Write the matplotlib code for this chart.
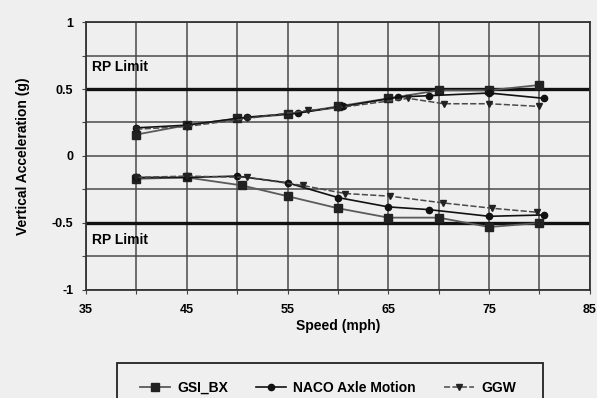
import matplotlib
matplotlib.use('Agg')
import matplotlib.pyplot as plt
from matplotlib.patches import Rectangle
from matplotlib.ticker import MultipleLocator
import numpy as np

plt.rcParams['font.family'] = ['Liberation Sans', 'DejaVu Sans']
plt.rcParams['font.weight'] = 'bold'

# *****************************************
# values
# upper branch (positive peaks)
gsi_up_x = [40, 45, 50, 55, 60, 65, 70, 75, 80]
gsi_up_y = [0.16, 0.23, 0.28, 0.31, 0.37, 0.43, 0.49, 0.49, 0.53]
naco_up_x = [40, 45, 51, 56, 60.5, 66, 69, 75, 80.5]
naco_up_y = [0.21, 0.23, 0.29, 0.32, 0.37, 0.44, 0.45, 0.47, 0.43]
ggw_up_x = [40, 45, 51, 57, 60, 67, 70.5, 75, 80]
ggw_up_y = [0.20, 0.22, 0.28, 0.34, 0.36, 0.43, 0.39, 0.39, 0.37]

# lower branch (negative peaks)
gsi_lo_x = [40, 45, 50.5, 55, 60, 65, 70, 75, 80]
gsi_lo_y = [-0.17, -0.16, -0.22, -0.30, -0.39, -0.46, -0.46, -0.53, -0.50]
naco_lo_x = [40, 45, 50, 55, 60, 65, 69, 75, 80.5]
naco_lo_y = [-0.16, -0.16, -0.15, -0.20, -0.31, -0.38, -0.40, -0.45, -0.44]
ggw_lo_x = [40, 45, 51, 56.5, 60.7, 65.2, 70.4, 75.3, 79.8]
ggw_lo_y = [-0.16, -0.15, -0.16, -0.22, -0.28, -0.30, -0.35, -0.39, -0.42]

rp_limit = [0.5, -0.5]
x_ticks = [35, 45, 55, 65, 75, 85]
y_ticks = [-1, -0.5, 0, 0.5, 1]
y_tick_labels = ['-1', '-0.5', '0', '0.5', '1']
# *****************************************

bg = '#efefef'
fig = plt.figure(figsize=(5.97, 3.98), dpi=100, facecolor=bg)
ax = fig.add_axes([0.144, 0.2714, 0.844, 0.6733])
ax.set_facecolor(bg)

ax.set_xlim(35, 85)
ax.set_ylim(-1, 1)
ax.grid(True, color='#4a4a4a', linewidth=1.1)
ax.set_axisbelow(True)

ax.set_xticks(np.arange(35, 86, 5))
ax.set_xticklabels([str(v) if v in x_ticks else '' for v in range(35, 86, 5)])
ax.set_yticks(np.arange(-1, 1.01, 0.25))
ax.set_yticklabels([y_tick_labels[y_ticks.index(v)] if v in y_ticks else ''
                    for v in np.arange(-1, 1.01, 0.25)])
ax.tick_params(axis='both', labelsize=9, length=3, color='#444444')
ax.tick_params(axis='x', pad=7)
ax.tick_params(axis='y', pad=6)
for lbl in ax.get_xticklabels() + ax.get_yticklabels():
    lbl.set_fontweight('bold')

for s in ax.spines.values():
    s.set_color('#333333')
    s.set_linewidth(1.3)

for lim in rp_limit:
    ax.axhline(lim, color='#111111', linewidth=2.4, zorder=2)
ax.text(35.6, 0.635, 'RP Limit', fontsize=10, fontweight='bold')
ax.text(35.6, -0.66, 'RP Limit', fontsize=10, fontweight='bold')

gsi_style = dict(color='#5a5a5a', linewidth=1.3, marker='s', markersize=5.5,
                 markerfacecolor='#222222', markeredgecolor='#222222')
naco_style = dict(color='#111111', linewidth=1.2, marker='o', markersize=4.5,
                  markerfacecolor='#111111', markeredgecolor='#111111')
ggw_style = dict(color='#4a4a4a', linewidth=1.1, linestyle=(0, (4, 1.5)), marker='v',
                 markersize=5, markerfacecolor='#222222', markeredgecolor='#222222')

ax.plot(gsi_up_x, gsi_up_y, label='GSI_BX', zorder=3, **gsi_style)
ax.plot(naco_up_x, naco_up_y, label='NACO Axle Motion', zorder=3, **naco_style)
ax.plot(ggw_up_x, ggw_up_y, label='GGW', zorder=3, **ggw_style)
ax.plot(gsi_lo_x, gsi_lo_y, zorder=3, **gsi_style)
ax.plot(naco_lo_x, naco_lo_y, zorder=3, **naco_style)
ax.plot(ggw_lo_x, ggw_lo_y, zorder=3, **ggw_style)

ax.set_xlabel('Speed (mph)', fontsize=10, fontweight='bold', labelpad=2)
ax.set_ylabel('Vertical Acceleration (g)', fontsize=10, fontweight='bold', labelpad=16)

# legend box runs off the bottom of the scan
fig.patches.append(Rectangle((117 / 597, -0.1), (543 - 117) / 597, 0.1 + (398 - 363) / 398,
                             transform=fig.transFigure, fill=False,
                             edgecolor='#222222', linewidth=1.3))
fig.legend(loc='center', bbox_to_anchor=(328 / 597, 1 - 388 / 398), ncol=3, frameon=False,
           handlelength=2.2, columnspacing=2.0, handletextpad=0.5,
           prop={'weight': 'bold', 'size': 10})

fig.savefig('out.png', dpi=100, facecolor=bg)
